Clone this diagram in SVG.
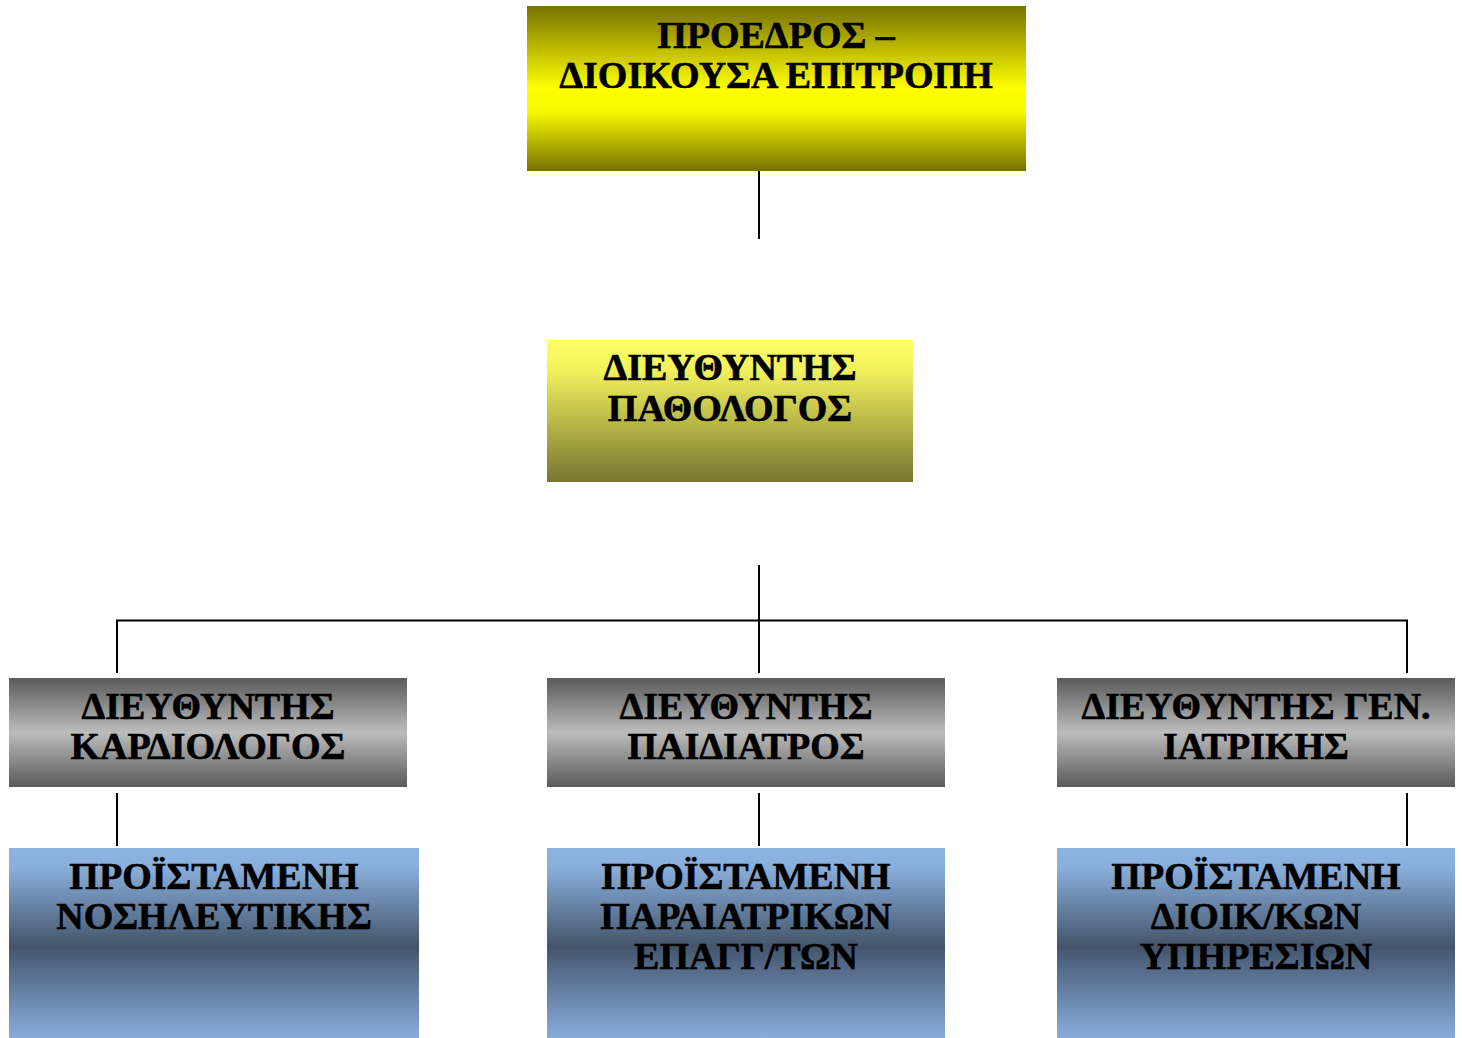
<svg xmlns="http://www.w3.org/2000/svg" width="1462" height="1038" viewBox="0 0 1462 1038">
<defs>
<linearGradient id="gTop" x1="0" y1="0" x2="0" y2="1">
<stop offset="0" stop-color="#777100"/>
<stop offset="0.5" stop-color="#ffff00"/>
<stop offset="0.65" stop-color="#f6f600"/>
<stop offset="1" stop-color="#777100"/>
</linearGradient>
<linearGradient id="gMid" x1="0" y1="0" x2="0" y2="1">
<stop offset="0" stop-color="#ffff66"/>
<stop offset="0.2" stop-color="#f4f35e"/>
<stop offset="1" stop-color="#777530"/>
</linearGradient>
<linearGradient id="gGray" x1="0" y1="0" x2="0" y2="1">
<stop offset="0" stop-color="#5a5a5a"/>
<stop offset="0.5" stop-color="#bcbcbc"/>
<stop offset="1" stop-color="#5a5a5a"/>
</linearGradient>
<linearGradient id="gBlue" x1="0" y1="0" x2="0" y2="1">
<stop offset="0" stop-color="#8db3e2"/>
<stop offset="0.1" stop-color="#8aafdc"/>
<stop offset="0.52" stop-color="#44546a"/>
<stop offset="0.6" stop-color="#4f6480"/>
<stop offset="1" stop-color="#89acdb"/>
</linearGradient>
</defs>
<style>
.t{font-family:"Liberation Serif","Times New Roman",serif;font-weight:bold;font-size:38px;fill:#000;stroke:#000;stroke-width:0.6;text-anchor:middle}
.c{stroke:#000;stroke-width:2;fill:none}
</style>
<rect width="1462" height="1038" fill="#fff"/>
<g id="connectors">
<line class="c" x1="759" y1="171" x2="759" y2="239"/>
<line class="c" x1="759" y1="565" x2="759" y2="673"/>
<polyline class="c" points="117,673 117,620.5 1407,620.5 1407,673"/>
<line class="c" x1="117" y1="793" x2="117" y2="846"/>
<line class="c" x1="759" y1="793" x2="759" y2="846"/>
<line class="c" x1="1407" y1="793" x2="1407" y2="846"/>
</g>
<g id="president">
<rect x="527" y="6" width="499" height="165" fill="url(#gTop)"/>
<text class="t" x="776" y="48">ΠΡΟΕΔΡΟΣ –</text>
<text class="t" x="776" y="87.5">ΔΙΟΙΚΟΥΣΑ ΕΠΙΤΡΟΠΗ</text>
</g>
<g id="director-pathologist">
<rect x="547" y="340" width="366" height="142" fill="url(#gMid)"/>
<text class="t" x="730" y="380">ΔΙΕΥΘΥΝΤΗΣ</text>
<text class="t" x="730" y="420.5">ΠΑΘΟΛΟΓΟΣ</text>
</g>
<g id="director-cardiologist">
<rect x="9" y="678" width="398" height="109" fill="url(#gGray)"/>
<text class="t" x="208" y="718.5">ΔΙΕΥΘΥΝΤΗΣ</text>
<text class="t" x="208" y="758.5">ΚΑΡΔΙΟΛΟΓΟΣ</text>
</g>
<g id="director-pediatrician">
<rect x="547" y="678" width="398" height="109" fill="url(#gGray)"/>
<text class="t" x="746" y="718.5">ΔΙΕΥΘΥΝΤΗΣ</text>
<text class="t" x="746" y="758.5">ΠΑΙΔΙΑΤΡΟΣ</text>
</g>
<g id="director-general">
<rect x="1057" y="678" width="398" height="109" fill="url(#gGray)"/>
<text class="t" x="1256" y="718.5">ΔΙΕΥΘΥΝΤΗΣ ΓΕΝ.</text>
<text class="t" x="1256" y="758.5">ΙΑΤΡΙΚΗΣ</text>
</g>
<g id="head-nursing">
<rect x="9" y="848" width="410" height="190" fill="url(#gBlue)"/>
<text class="t" x="214" y="889">ΠΡΟΪΣΤΑΜΕΝΗ</text>
<text class="t" x="214" y="928.5">ΝΟΣΗΛΕΥΤΙΚΗΣ</text>
</g>
<g id="head-paramedical">
<rect x="547" y="848" width="398" height="190" fill="url(#gBlue)"/>
<text class="t" x="746" y="889">ΠΡΟΪΣΤΑΜΕΝΗ</text>
<text class="t" x="746" y="928.5">ΠΑΡΑΙΑΤΡΙΚΩΝ</text>
<text class="t" x="746" y="968.5">ΕΠΑΓΓ/ΤΩΝ</text>
</g>
<g id="head-administrative">
<rect x="1057" y="848" width="398" height="190" fill="url(#gBlue)"/>
<text class="t" x="1256" y="888.5">ΠΡΟΪΣΤΑΜΕΝΗ</text>
<text class="t" x="1256" y="928.5">ΔΙΟΙΚ/ΚΩΝ</text>
<text class="t" x="1256" y="968.5">ΥΠΗΡΕΣΙΩΝ</text>
</g>
</svg>
